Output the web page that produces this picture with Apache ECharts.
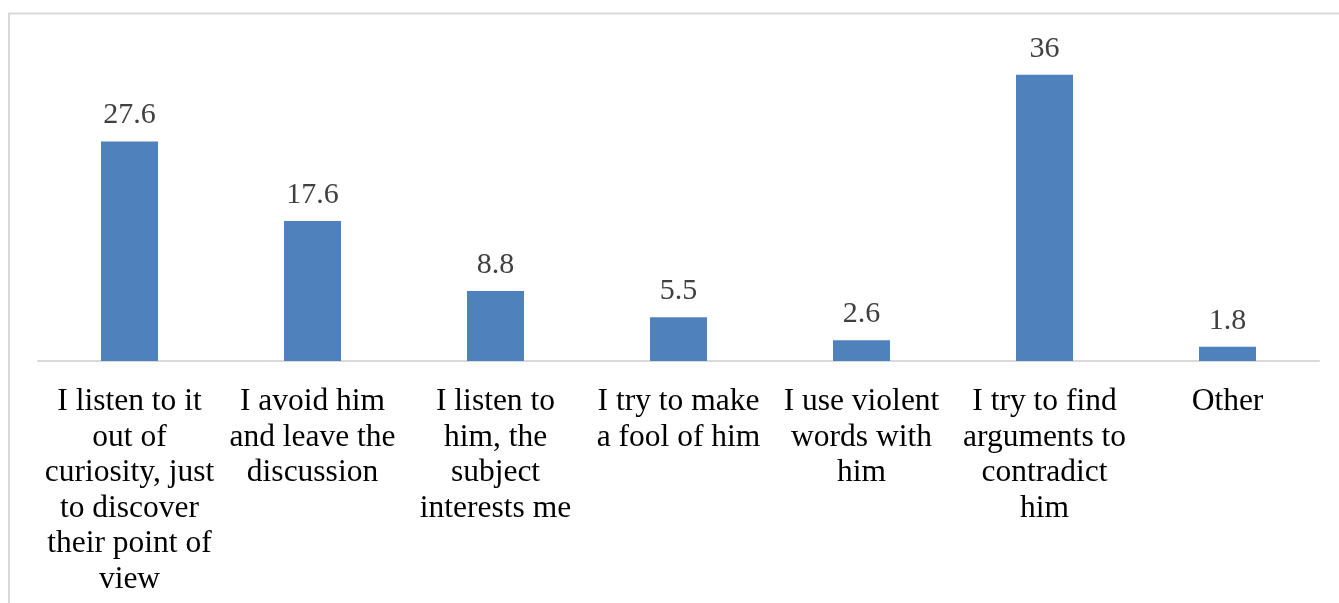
<!DOCTYPE html>
<html>
<head>
<meta charset="utf-8">
<script src="https://cdn.jsdelivr.net/npm/echarts@6/dist/echarts.min.js"></script>
<style>
  html, body { margin: 0; padding: 0; background: #fff; }
  #chart { width: 1339px; height: 603px; }
</style>
</head>
<body>
<div id="chart"></div>
<script>
// Reactions listed as answer categories (line breaks as they wrap under the axis)
const categories = [
  'I listen to it\nout of\ncuriosity, just\nto discover\ntheir point of\nview',
  'I avoid him\nand leave the\ndiscussion',
  'I listen to\nhim, the\nsubject\ninterests me',
  'I try to make\na fool of him',
  'I use violent\nwords with\nhim',
  'I try to find\narguments to\ncontradict\nhim',
  'Other'
];
// Share of respondents (%)
const values = [27.6, 17.6, 8.8, 5.5, 2.6, 36, 1.8];

const chart = echarts.init(document.getElementById('chart'), null, { renderer: 'canvas' });

chart.setOption({
  animation: false,
  backgroundColor: '#ffffff',
  graphic: [{
    type: 'rect',
    shape: { x: 9, y: 13.5, width: 1400, height: 700 },
    style: { fill: 'none', stroke: '#d9d9d9', lineWidth: 2 },
    silent: true
  }],
  grid: { left: 38, right: 20, top: 43, bottom: 242, containLabel: false },
  xAxis: {
    type: 'category',
    data: categories,
    axisTick: { show: false },
    axisLine: { lineStyle: { color: '#d9d9d9', width: 2 } },
    axisLabel: {
      interval: 0,
      margin: 23,
      color: '#000000',
      fontFamily: 'Liberation Serif',
      fontSize: 31.5,
      lineHeight: 35.6,
      align: 'center'
    }
  },
  yAxis: {
    type: 'value',
    min: 0,
    max: 40,
    show: false,
    splitLine: { show: false }
  },
  series: [{
    type: 'bar',
    data: values,
    barWidth: 57,
    itemStyle: { color: '#4f81bd' },
    label: {
      show: true,
      position: 'top',
      distance: 11,
      color: '#404040',
      fontFamily: 'Liberation Serif',
      fontSize: 30
    }
  }]
});
</script>
</body>
</html>
